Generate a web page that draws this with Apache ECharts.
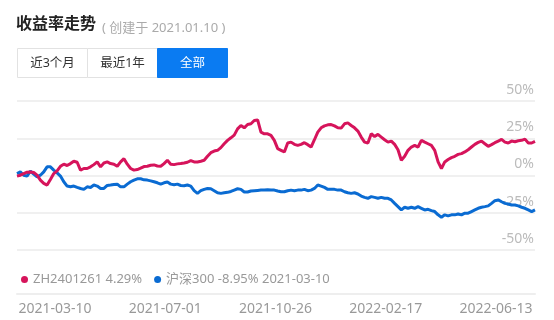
<!DOCTYPE html>
<html><head><meta charset="utf-8">
<script src="https://cdn.jsdelivr.net/npm/echarts@6.0.0/dist/echarts.min.js"></script>
<style>html,body{margin:0;padding:0;background:#fff}#c{width:554px;height:320px}</style>
</head><body><div id="c"></div>
<script>
const titleText = '收益率走势';
const subtitleText = '( 创建于 2021.01.10 )';
const buttonLabels = ['近3个月', '最近1年', '全部'];
const activeButton = 2;
const seriesNames = ['ZH2401261', '沪深300'];
const legendValues = ['4.29%', '-8.95% 2021-03-10'];
const xTickLabels = ['2021-03-10', '2021-07-01', '2021-10-26', '2022-02-17', '2022-06-13'];
const yMin = -50, yMax = 50, yStep = 25;

const portfolio = [
 -0.4, 0.2, 1.3, 2.2, 2.4, 2.0, 0.2, -3.1, -5.3, -6.4,
 -2.7, 1.3, 3.1, 6.2, 7.6, 6.7, 8.0, 9.6, 8.9, 3.6,
 4.7, 4.7, 5.8, 7.3, 9.1, 5.8, 8.4, 9.1, 8.0, 7.6,
 6.2, 9.1, 11.3, 7.6, 4.7, 3.6, 4.0, 4.9, 6.0, 6.2,
 6.9, 7.1, 6.4, 6.2, 8.0, 10.2, 7.6, 7.3, 7.8, 8.0,
 8.4, 8.9, 10.0, 9.1, 9.1, 9.6, 10.2, 12.9, 15.3, 16.4,
 16.9, 18.7, 21.3, 23.6, 25.3, 27.1, 31.3, 33.6, 32.0, 34.2,
 34.7, 36.9, 37.3, 29.1, 28.0, 28.0, 26.9, 23.6, 18.0, 16.9,
 15.8, 21.8, 22.4, 20.9, 20.2, 20.9, 22.0, 20.7, 19.1, 24.0,
 29.1, 32.0, 33.3, 34.0, 34.2, 33.3, 32.0, 31.8, 34.7, 35.3,
 33.6, 32.0, 29.8, 25.8, 22.4, 21.8, 28.0, 26.2, 27.6, 25.8,
 24.0, 22.4, 23.1, 20.9, 17.3, 10.2, 12.9, 16.9, 19.1, 20.2,
 19.1, 23.6, 22.4, 21.3, 20.2, 16.9, 9.1, 4.7, 9.1, 10.7,
 12.0, 12.9, 14.2, 14.7, 15.8, 17.3, 19.1, 20.9, 22.2, 23.1,
 21.3, 19.6, 20.7, 22.0, 23.1, 24.2, 22.4, 21.8, 23.1, 22.7,
 23.3, 23.6, 24.4, 21.8, 21.8, 22.9
];

const hs300 = [
 1.3, 2.4, 0.2, -0.4, 2.9, 0.9, -0.9, 0.2, 2.4, 5.8,
 5.8, 3.6, 1.8, -0.4, -4.2, -7.1, -7.6, -7.1, -8.0, -8.7,
 -9.3, -7.6, -8.0, -6.4, -7.1, -8.7, -8.7, -6.7, -6.4, -6.0,
 -5.8, -7.6, -7.6, -5.8, -4.2, -3.1, -2.2, -2.2, -2.9, -3.1,
 -3.6, -4.2, -4.9, -5.8, -4.9, -4.4, -5.8, -6.2, -5.8, -6.7,
 -6.9, -6.4, -7.1, -10.2, -12.0, -10.2, -9.3, -8.7, -8.9, -10.2,
 -11.6, -12.0, -11.6, -11.3, -10.7, -9.8, -8.9, -9.3, -11.1, -11.1,
 -10.4, -10.2, -10.0, -9.8, -9.8, -9.6, -9.8, -9.8, -10.4, -10.9,
 -10.9, -10.2, -9.8, -10.2, -9.8, -9.8, -9.3, -10.2, -9.8, -8.7,
 -6.4, -7.1, -8.0, -9.3, -9.3, -9.3, -9.8, -9.8, -10.9, -11.6,
 -12.0, -11.6, -12.4, -13.8, -14.7, -15.3, -14.2, -14.7, -15.3, -14.7,
 -15.3, -15.3, -16.4, -18.7, -20.9, -23.1, -21.3, -22.0, -21.3, -22.0,
 -20.9, -22.0, -23.1, -22.7, -23.6, -24.2, -26.4, -28.0, -26.4, -27.1,
 -26.4, -26.4, -25.8, -26.4, -25.3, -25.3, -24.2, -23.1, -22.0, -21.3,
 -20.9, -20.4, -18.7, -16.9, -16.4, -17.6, -18.7, -19.1, -19.8, -19.8,
 -20.4, -21.3, -22.0, -23.1, -24.2, -23.1
];

const colors = ['#d6145b', '#0a6bd2'];
const FONT = "'Noto Sans', 'Noto Sans CJK SC', sans-serif";
const categories = portfolio.map((_, i) => i);

// buttons
const btnX0 = 17.5, btnY = 48.5, btnW = 70, btnH = 29;
const graphics = [];
buttonLabels.forEach((lab, i) => {
  const active = i === activeButton;
  graphics.push({
    type: 'rect', z: 10,
    shape: { x: btnX0 + i * btnW, y: btnY, width: btnW, height: btnH },
    style: { fill: active ? '#0a7bf2' : '#fff', stroke: active ? '#0a7bf2' : '#e2e2e2', lineWidth: 1 }
  });
  graphics.push({
    type: 'text', z: 11,
    style: { text: lab, x: btnX0 + i * btnW + btnW / 2, y: btnY + btnH / 2 + 0.5,
      align: 'center', verticalAlign: 'middle', fontSize: 12.5, fontFamily: FONT,
      fill: active ? '#fff' : '#333' }
  });
});

const chart = echarts.init(document.getElementById('c'), null, { renderer: 'canvas' });
chart.setOption({
  animation: false,
  backgroundColor: '#fff',
  textStyle: { fontFamily: FONT },
  title: [
    { text: titleText, left: 16, top: 16, padding: 0,
      textStyle: { fontSize: 16, fontWeight: 'bold', color: '#222', fontFamily: FONT } },
    { text: subtitleText, left: 102, top: 22, padding: 0,
      textStyle: { fontSize: 13, fontWeight: 'normal', color: '#aaa', fontFamily: FONT } }
  ],
  graphic: graphics,
  legend: {
    data: seriesNames, left: 21, top: 273, padding: 0,
    icon: 'circle', itemWidth: 7, itemHeight: 7, itemGap: 12,
    textStyle: { color: '#999', fontSize: 13, fontFamily: FONT },
    formatter: name => name + ' ' + legendValues[seriesNames.indexOf(name)]
  },
  grid: [
    { left: 17, right: 19, top: 101, bottom: 70, containLabel: false },
    { left: 55, right: 58, top: 293, height: 1, containLabel: false }
  ],
  xAxis: [
    { type: 'category', gridIndex: 0, data: categories, boundaryGap: false,
      position: 'bottom', offset: 44,
      axisLine: { show: true, onZero: false, lineStyle: { color: '#eeeeee', width: 2 } },
      axisTick: { show: false }, axisLabel: { show: false }, splitLine: { show: false } },
    { type: 'value', gridIndex: 1, min: 0, max: xTickLabels.length - 1, interval: 1,
      position: 'bottom',
      axisLine: { show: false }, axisTick: { show: false }, splitLine: { show: false },
      axisLabel: { show: true, margin: 8, color: '#999', fontSize: 14, fontFamily: FONT,
        formatter: v => xTickLabels[v] } }
  ],
  yAxis: [
    { type: 'value', gridIndex: 0, position: 'right', min: yMin, max: yMax, interval: yStep,
      axisLine: { show: false }, axisTick: { show: false },
      splitLine: { show: true, lineStyle: { color: '#f0f0f0', width: 2 } },
      axisLabel: { inside: true, margin: 1, color: '#bbb', fontSize: 14, fontFamily: FONT,
        verticalAlign: 'bottom', lineHeight: 14, padding: [0, 0, 4, 0],
        formatter: '{value}%' } },
    { type: 'value', gridIndex: 1, show: false }
  ],
  series: [
    { name: seriesNames[0], type: 'line', data: portfolio, xAxisIndex: 0, yAxisIndex: 0,
      showSymbol: false, symbol: 'none', z: 4, color: colors[0],
      lineStyle: { color: colors[0], width: 3 } },
    { name: seriesNames[1], type: 'line', data: hs300, xAxisIndex: 0, yAxisIndex: 0,
      showSymbol: false, symbol: 'none', z: 3, color: colors[1],
      lineStyle: { color: colors[1], width: 3 } }
  ]
});
</script>
</body></html>
